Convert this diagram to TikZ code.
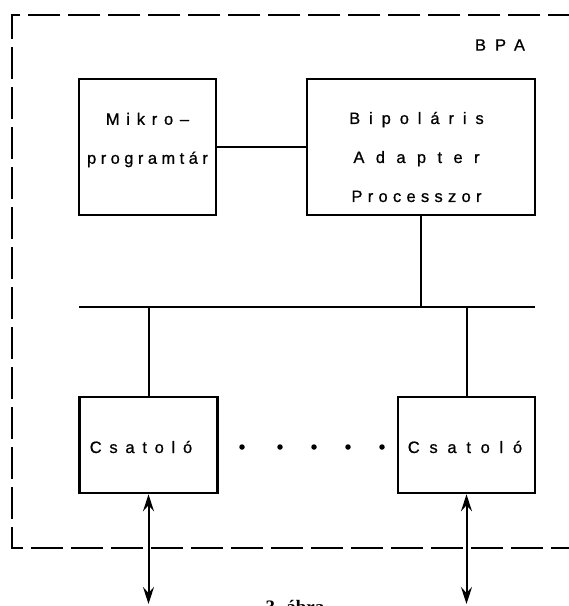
\documentclass[tikz,border=0pt]{standalone}
\usepackage{fontspec}
\setmainfont{Liberation Serif}
\newfontfamily\lett[FakeBold=0.8]{Liberation Sans}
\usetikzlibrary{arrows.meta}
\newcommand{\spc}[2]{{\addfontfeature{LetterSpace=#1}#2}}
\begin{document}
\begin{tikzpicture}[x=1pt,y=-1pt,
  boxst/.style={draw,line width=2.6pt,inner sep=0pt},
  wire/.style={line width=2pt},
  framest/.style={line width=2.4pt,dash pattern=on 32pt off 8pt},
  lbl/.style={font=\lett\fontsize{16.5}{39}\selectfont,align=center,inner sep=0pt},
  captxt/.style={font=\bfseries\fontsize{19}{22}\selectfont,inner sep=0pt},
  dotst/.style={fill,circle,inner sep=0pt,minimum size=5.5pt},
  dbl/.style={line width=2pt,{Stealth[length=17pt,width=11pt,inset=6pt]}-{Stealth[length=17pt,width=11pt,inset=6pt]}}]
\useasboundingbox (0,0) rectangle (569,606);
% frame
\coordinate (fTR) at (580,15);
\coordinate (fTL) at (12,15);
\coordinate (fBL) at (12,548);
\coordinate (fBR) at (580,548);
\draw[framest] (fTR) -- (fTL) -- (fBL) -- (fBR);
\node[lbl] (bpalbl) at (500,45) {\spc{55}{BPA}};
% boxes
\node[boxst,minimum width=137pt,minimum height=136pt] (mikro) at (147.5,147) {};
\node[boxst,minimum width=228pt,minimum height=136pt] (bpa) at (421,147) {};
\node[boxst,minimum width=138pt,minimum height=96pt] (c1) at (148.5,445) {};
\node[boxst,minimum width=137pt,minimum height=96pt] (c2) at (466.5,445) {};
% texts
\node[lbl] (tmikro) at (147.5,140) {\spc{41}{Mikro–}\\\spc{27}{programtár}};
\node[lbl] (tbpa) at (416.5,157) {\spc{54}{Bipoláris}\\\spc{69}{Adapter}\\\spc{32}{Processzor}};
\node[lbl] (tc1) at (141,447) {\spc{47}{Csatoló}};
\node[lbl] (tc2) at (465,447) {\spc{59}{Csatoló}};
% connectors
\draw[wire] (mikro.east) -- (bpa.west);
\coordinate (busL) at (79,307);
\coordinate (busR) at (535,307);
\draw[wire] (busL) -- (busR);
\draw[wire] (bpa.south) -- (bpa.south |- busL);
\draw[wire] (c1.north |- busL) -- (c1.north);
\draw[wire] (c2.north |- busL) -- (c2.north);
% dots
\foreach \x in {242,280,314,348,382} \node[dotst] at (\x,447) {};
% arrows
\coordinate (e1) at (148.5,604);
\coordinate (e2) at (466.5,604);
\draw[dbl] (c1.south) -- (e1);
\draw[dbl] (c2.south) -- (e2);
% caption
\node[captxt,anchor=north] (caption) at (295,600) {3. ábra};
\end{tikzpicture}
\end{document}
